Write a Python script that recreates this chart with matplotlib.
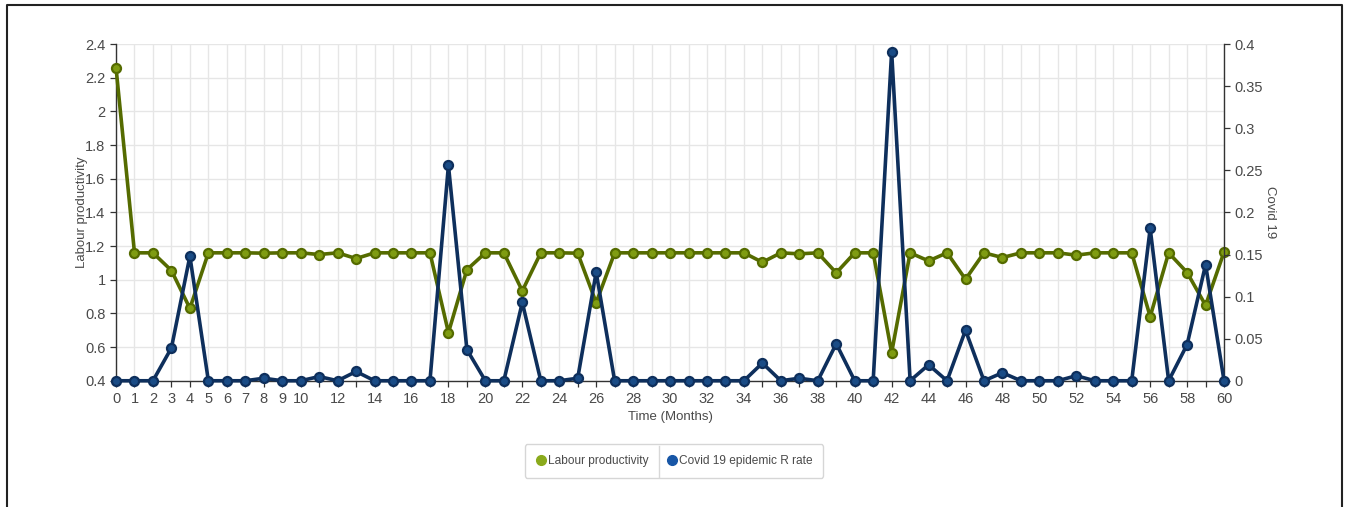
import matplotlib
matplotlib.use("Agg")
import matplotlib.pyplot as plt
from matplotlib.lines import Line2D

plt.rcParams['font.family'] = ['Liberation Sans', 'DejaVu Sans']

months = list(range(61))
labour_productivity = [
    2.26, 1.16, 1.16, 1.055, 0.83, 1.16, 1.16, 1.16, 1.158, 1.16,
    1.16, 1.15, 1.16, 1.126, 1.16, 1.16, 1.16, 1.16, 0.686, 1.06,
    1.16, 1.16, 0.934, 1.16, 1.16, 1.158, 0.864, 1.16, 1.16, 1.16,
    1.16, 1.16, 1.16, 1.16, 1.16, 1.104, 1.16, 1.154, 1.16, 1.041,
    1.16, 1.16, 0.567, 1.16, 1.112, 1.16, 1.003, 1.16, 1.132, 1.16,
    1.16, 1.16, 1.146, 1.16, 1.16, 1.16, 0.781, 1.16, 1.043, 0.848,
    1.165,
]
covid_r_rate = [
    0.0, 0.0, 0.0, 0.039, 0.148, 0.0, 0.0, 0.0, 0.003, 0.0,
    0.0, 0.005, 0.0, 0.011, 0.0, 0.0, 0.0, 0.0, 0.256, 0.037,
    0.0, 0.0, 0.093, 0.0, 0.0, 0.003, 0.129, 0.0, 0.0, 0.0,
    0.0, 0.0, 0.0, 0.0, 0.0, 0.021, 0.0, 0.003, 0.0, 0.044,
    0.0, 0.0, 0.391, 0.0, 0.019, 0.0, 0.060, 0.0, 0.0095, 0.0,
    0.0, 0.0, 0.006, 0.0, 0.0, 0.0, 0.181, 0.0, 0.043, 0.138,
    0.0,
]
x_tick_labels = list(range(0, 11)) + list(range(12, 61, 2))
left_ticks = [0.4, 0.6, 0.8, 1, 1.2, 1.4, 1.6, 1.8, 2, 2.2, 2.4]
right_ticks = [0, 0.05, 0.1, 0.15, 0.2, 0.25, 0.3, 0.35, 0.4]

text_color = '#4a4a4a'
green_line = '#556b00'
green_face = '#7f9c12'
blue_line = '#0e2f5c'
blue_face = '#1a4c86'

fig = plt.figure(figsize=(13.46, 5.07), dpi=100)
ax = fig.add_axes([0.0862, 0.249, 0.8232, 0.664])
ax2 = ax.twinx()

ax.plot(months, labour_productivity, color=green_line, lw=2.6, marker='o',
        ms=6.5, mfc=green_face, mec=green_line, mew=1.6, zorder=3, clip_on=False)
ax2.plot(months, covid_r_rate, color=blue_line, lw=2.6, marker='o',
         ms=6.5, mfc=blue_face, mec=blue_line, mew=1.6, zorder=3, clip_on=False)

ax.set_xlim(0, 60)
ax.set_ylim(0.4, 2.4)
ax2.set_ylim(0, 0.4)

ax.set_xticks(x_tick_labels)
ax.set_xticklabels([str(v) for v in x_tick_labels])
ax.set_xticks(months, minor=True)
ax.set_yticks(left_ticks)
ax.set_yticklabels(['0.4', '0.6', '0.8', '1', '1.2', '1.4', '1.6', '1.8', '2', '2.2', '2.4'])
ax2.set_yticks(right_ticks)
ax2.set_yticklabels(['0', '0.05', '0.1', '0.15', '0.2', '0.25', '0.3', '0.35', '0.4'])

ax.grid(True, which='both', axis='x', color='#e6e6e6', lw=1.0)
ax.grid(True, which='major', axis='y', color='#e6e6e6', lw=1.0)
ax.set_axisbelow(True)

for a in (ax, ax2):
    a.spines['top'].set_visible(False)
    for s in ('left', 'right', 'bottom'):
        a.spines[s].set_color('#333333')
        a.spines[s].set_linewidth(1.0)
    a.tick_params(colors='#333333', labelcolor=text_color, labelsize=10.5, length=4, width=0.9)
ax.spines['right'].set_visible(False)
ax2.spines['left'].set_visible(False)
ax2.spines['bottom'].set_visible(False)
ax.tick_params(axis='x', which='minor', length=4, width=0.9, colors='#333333')
ax.tick_params(axis='x', pad=4)

ax.set_ylabel('Labour productivity', color=text_color, fontsize=9.5, labelpad=-2)
ax.set_xlabel('Time (Months)', color=text_color, fontsize=9.5, labelpad=4)
ax2.set_ylabel('Covid 19', color=text_color, fontsize=9.5, rotation=270, labelpad=9)

handles = [
    Line2D([], [], ls='none', marker='o', ms=7, mfc='#8aaa1c', mec='#8aaa1c'),
    Line2D([], [], ls='none', marker='o', ms=7, mfc='#1756a6', mec='#1756a6'),
]
leg = fig.legend(handles, ['Labour productivity', 'Covid 19 epidemic R rate'],
                 loc='center', bbox_to_anchor=(674 / 1346, 1 - 461 / 507), ncol=2,
                 frameon=True, fancybox=True, fontsize=8.6, handletextpad=0.05,
                 handlelength=1.0, columnspacing=1.5, borderpad=0.9,
                 borderaxespad=0.0)
leg.get_frame().set_edgecolor('#cccccc')
leg.get_frame().set_linewidth(1.0)
for t in leg.get_texts():
    t.set_color(text_color)

# divider between legend entries
fig.add_artist(Line2D([659 / 1346, 659 / 1346], [1 - 446 / 507, 1 - 477 / 507],
                      transform=fig.transFigure, color='#d8d8d8', lw=1.0, zorder=20))

# outer frame (top, left, right)
fig.add_artist(Line2D([7 / 1346, 7 / 1346, 1342 / 1346, 1342 / 1346],
                      [0, 1 - 5 / 507, 1 - 5 / 507, 0],
                      transform=fig.transFigure, color='#222222', lw=1.5))

fig.savefig('out.png', dpi=100, facecolor='white')
